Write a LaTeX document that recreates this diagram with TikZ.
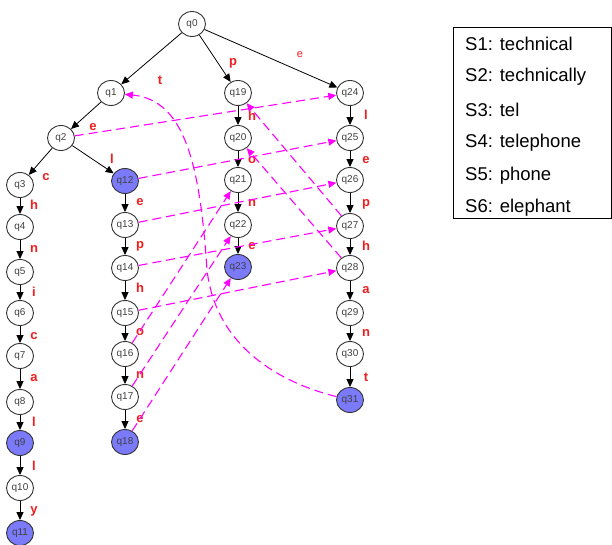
\documentclass[tikz,border=0pt]{standalone}
\usepackage{fontspec}
\setmainfont{Liberation Sans}
\usetikzlibrary{arrows.meta,shapes.geometric}
\definecolor{acc}{RGB}{122,122,250}
\definecolor{fl}{RGB}{255,0,255}
\definecolor{lbl}{RGB}{240,30,30}
\tikzset{
  st/.style={ellipse,draw=black!80,line width=0.9pt,fill=white,minimum width=27pt,
    minimum height=25pt,inner sep=0pt,font=\fontsize{10}{12}\selectfont,text=black!75},
  fin/.style={st,fill=acc},
  go/.style={-{Triangle[length=8pt,width=7pt]},line width=0.8pt},
  fail/.style={-{Triangle[length=8pt,width=7pt]},draw=fl,line width=1.1pt,
    dash pattern=on 9pt off 5pt},
  sym/.style={text=lbl,font=\fontsize{13}{15}\selectfont\bfseries,inner sep=0pt},
  leg/.style={anchor=west,font=\fontsize{18.5}{22}\selectfont,inner sep=0pt}
}
\begin{document}
\begin{tikzpicture}[x=1pt,y=-1pt]
\useasboundingbox (0,0) rectangle (612,545);

% states
\node[st]  (q0)  at (192,24)  {q0};
\node[st]  (q1)  at (111,93)  {q1};
\node[st]  (q2)  at (61,138)  {q2};
\node[st]  (q3)  at (20,185)  {q3};
\node[st]  (q4)  at (20,227)  {q4};
\node[st]  (q5)  at (20,272)  {q5};
\node[st]  (q6)  at (20,313)  {q6};
\node[st]  (q7)  at (20,356)  {q7};
\node[st]  (q8)  at (20,402)  {q8};
\node[fin] (q9)  at (20,443)  {q9};
\node[st]  (q10) at (20,488)  {q10};
\node[fin] (q11) at (20,533)  {q11};
\node[fin] (q12) at (125,181) {q12};
\node[st]  (q13) at (125,225) {q13};
\node[st]  (q14) at (125,268) {q14};
\node[st]  (q15) at (125,313) {q15};
\node[st]  (q16) at (125,354) {q16};
\node[st]  (q17) at (125,397) {q17};
\node[fin] (q18) at (125,442) {q18};
\node[st]  (q19) at (238,93)  {q19};
\node[st]  (q20) at (238,138) {q20};
\node[st]  (q21) at (238,180) {q21};
\node[st]  (q22) at (238,225) {q22};
\node[fin] (q23) at (238,267) {q23};
\node[st]  (q24) at (350,93)  {q24};
\node[st]  (q25) at (350,138) {q25};
\node[st]  (q26) at (350,180) {q26};
\node[st]  (q27) at (350,226) {q27};
\node[st]  (q28) at (350,268) {q28};
\node[st]  (q29) at (350,313) {q29};
\node[st]  (q30) at (350,354) {q30};
\node[fin] (q31) at (350,400) {q31};

% goto transitions
\foreach \a/\b in {q0/q1,q0/q19,q0/q24,q1/q2,q2/q3,q2/q12,
  q3/q4,q4/q5,q5/q6,q6/q7,q7/q8,q8/q9,q9/q10,q10/q11,
  q12/q13,q13/q14,q14/q15,q15/q16,q16/q17,q17/q18,
  q19/q20,q20/q21,q21/q22,q22/q23,
  q24/q25,q25/q26,q26/q27,q27/q28,q28/q29,q29/q30,q30/q31}
  \draw[go] (\a) -- (\b);

% transition symbols
\node[sym] (t01)  at (160,80)  {t};
\node[sym] (t019) at (233,63)  {p};
\node[sym,font=\fontsize{11}{13}\selectfont] (t024) at (300,55) {e};
\node[sym] (t12)  at (93,127)  {e};
\node[sym] (t23)  at (46,177)  {c};
\node[sym] (t212) at (112,159) {l};
\node[sym] (t34)  at (34,205)  {h};
\node[sym] (t45)  at (34,249)  {n};
\node[sym] (t56)  at (34,292)  {i};
\node[sym] (t67)  at (34,336)  {c};
\node[sym] (t78)  at (34,378)  {a};
\node[sym] (t89)  at (34,422)  {l};
\node[sym] (t910) at (34,466)  {l};
\node[sym] (t1011) at (34,511) {y};
\node[sym] (t1213) at (140,202) {e};
\node[sym] (t1314) at (140,246) {p};
\node[sym] (t1415) at (140,288) {h};
\node[sym] (t1516) at (140,332) {o};
\node[sym] (t1617) at (140,375) {n};
\node[sym] (t1718) at (140,419) {e};
\node[sym] (t1920) at (252,116) {h};
\node[sym] (t2021) at (252,160) {o};
\node[sym] (t2122) at (252,203) {n};
\node[sym] (t2223) at (252,246) {e};
\node[sym] (t2425) at (366,115) {l};
\node[sym] (t2526) at (366,160) {e};
\node[sym] (t2627) at (366,204) {p};
\node[sym] (t2728) at (366,246) {h};
\node[sym] (t2829) at (366,290) {a};
\node[sym] (t2930) at (366,333) {n};
\node[sym] (t3031) at (366,377) {t};

% failure links
\foreach \a/\b in {q2/q24,q12/q25,q13/q26,q14/q27,q15/q28,
  q16/q21,q17/q22,q18/q23,q27/q19,q28/q20}
  \draw[fail] (\a) -- (\b);
\draw[fail] (q31) .. controls (270,380) and (215,340) .. (207,270)
  .. controls (200,165) and (185,100) .. (q1);

% pattern list
\node[draw,line width=0.8pt,anchor=north west,minimum width=158pt,minimum height=191pt,inner sep=0pt] (legend) at (453,27) {};
\node[leg] (s1) at (465,44)  {S1: technical};
\node[leg] (s2) at (465,77)  {S2: technically};
\node[leg] (s3) at (465,110) {S3: tel};
\node[leg] (s4) at (465,143) {S4: telephone};
\node[leg] (s5) at (465,176) {S5: phone};
\node[leg] (s6) at (465,208) {S6: elephant};
\end{tikzpicture}
\end{document}
